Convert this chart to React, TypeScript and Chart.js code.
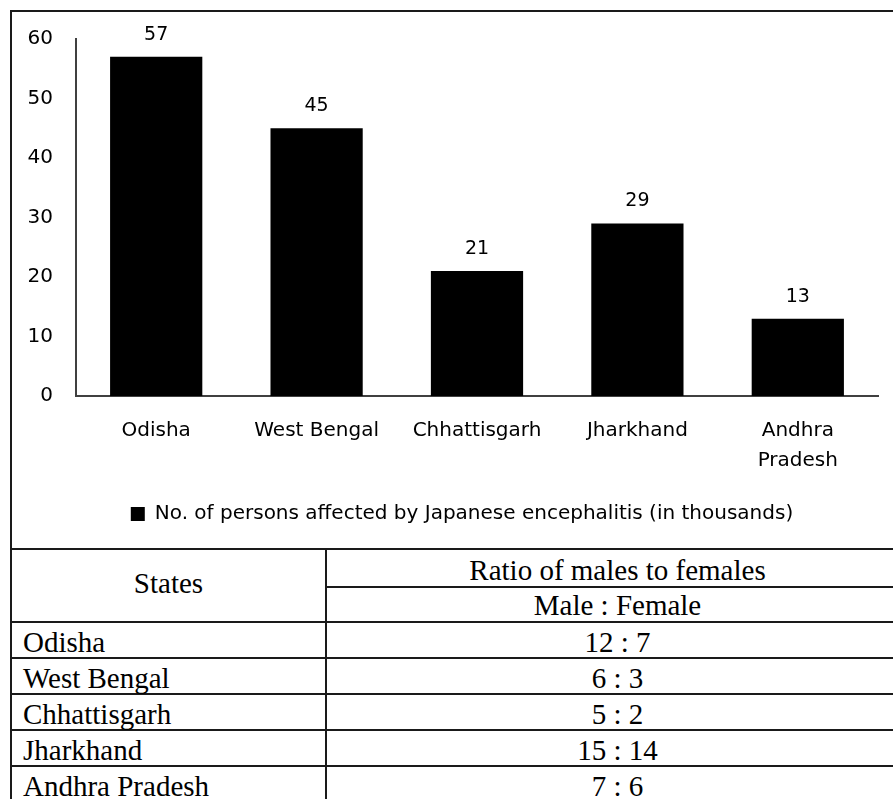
import React, { useEffect, useRef } from 'react';
import { Chart, registerables } from 'chart.js';

Chart.register(...registerables);

const states = ['Odisha', 'West Bengal', 'Chhattisgarh', 'Jharkhand', 'Andhra Pradesh'];
const affected = [57, 45, 21, 29, 13];
const maleParts = [12, 6, 5, 15, 7];
const femaleParts = [7, 3, 2, 14, 6];
const seriesLabel = 'No. of persons affected by Japanese encephalitis (in thousands)';
const yMin = 0;
const yMax = 60;
const yStep = 10;

const SANS = '"DejaVu Sans", sans-serif';
const SERIF = '"Liberation Serif", "Times New Roman", serif';
const LINE = '2px solid #1a1a1a';

const valueLabels = {
  id: 'valueLabels',
  afterDatasetsDraw(chart: any) {
    const ctx = chart.ctx;
    const meta = chart.getDatasetMeta(0);
    const data = chart.data.datasets[0].data;
    ctx.save();
    ctx.font = `19px ${SANS}`;
    ctx.fillStyle = '#000';
    ctx.textAlign = 'center';
    ctx.textBaseline = 'middle';
    meta.data.forEach((bar: any, i: number) => {
      ctx.fillText(String(data[i]), bar.x, bar.y - 22);
    });
    ctx.restore();
  },
};

// centre the legend on the whole box (the box includes the y-axis column)
const legendShift = {
  id: 'legendShift',
  afterLayout(chart: any) {
    const l = chart.legend;
    if (l) {
      l.left += 17;
      l.right += 17;
    }
  },
};

function BarChart() {
  const ref = useRef<HTMLCanvasElement | null>(null);
  useEffect(() => {
    if (!ref.current) return;
    const chart = new Chart(ref.current, {
      type: 'bar',
      data: {
        labels: states.map((s) => (s.length > 12 ? s.split(' ') : s)),
        datasets: [
          {
            label: seriesLabel,
            data: affected,
            backgroundColor: '#000',
            borderWidth: 0,
            barPercentage: 0.575,
            categoryPercentage: 1,
          },
        ],
      },
      options: {
        animation: false,
        responsive: false,
        maintainAspectRatio: false,
        layout: { padding: { top: 27, right: 30, bottom: 14, left: 0 } },
        plugins: {
          legend: {
            position: 'bottom',
            labels: {
              boxWidth: 14,
              boxHeight: 14,
              padding: 10,
              color: '#000',
              font: { family: SANS, size: 20 },
            },
          },
          tooltip: { enabled: false },
        },
        scales: {
          x: {
            grid: { display: false, drawTicks: false },
            border: { display: true, color: '#404040', width: 2 },
            ticks: {
              color: '#000',
              font: { family: SANS, size: 20, lineHeight: 1.5 },
              padding: 20,
              maxRotation: 0,
              autoSkip: false,
            },
            afterFit(s: any) {
              s.height = 98;
            },
          },
          y: {
            min: yMin,
            max: yMax,
            ticks: {
              stepSize: yStep,
              color: '#000',
              font: { family: SANS, size: 20 },
              padding: 23,
            },
            grid: { display: false, drawTicks: false },
            border: { display: true, color: '#404040', width: 2 },
            afterFit(s: any) {
              s.width = 64;
              s.paddingTop = 12;
            },
          },
        },
      },
      plugins: [valueLabels, legendShift],
    } as any);
    return () => chart.destroy();
  }, []);
  return (
    <canvas
      ref={ref}
      width={896}
      height={536}
      style={{ position: 'absolute', left: 0, top: 0, width: 896, height: 536 }}
    />
  );
}

const headerH1 = 38;
const headerH2 = 35;
const rowH = 36;
const leftColW = 315;
const rightColW = 581;

const cellText: React.CSSProperties = {
  position: 'absolute',
  boxSizing: 'border-box',
  display: 'flex',
  alignItems: 'center',
  fontFamily: SERIF,
  fontSize: 29,
  color: '#000',
  lineHeight: 1,
  whiteSpace: 'nowrap',
  borderBottom: LINE,
};

function RatioTable() {
  const top0 = 2;
  const dataTop = top0 + headerH1 + headerH2;
  return (
    <div
      style={{
        position: 'absolute',
        left: 10,
        top: 548,
        width: 900,
        height: 260,
        boxSizing: 'border-box',
        borderLeft: LINE,
        borderRight: LINE,
      }}
    >
      <div
        style={{
          ...cellText,
          left: 0,
          top: top0,
          width: leftColW,
          height: headerH1 + headerH2,
          borderRight: LINE,
          justifyContent: 'center',
          paddingBottom: 4,
        }}
      >
        States
      </div>
      <div
        style={{
          ...cellText,
          left: leftColW,
          top: top0,
          width: rightColW,
          height: headerH1,
          justifyContent: 'center',
          paddingTop: 4,
        }}
      >
        Ratio of males to females
      </div>
      <div
        style={{
          ...cellText,
          left: leftColW,
          top: top0 + headerH1,
          width: rightColW,
          height: headerH2,
          justifyContent: 'center',
          paddingTop: 2,
        }}
      >
        Male : Female
      </div>
      {states.map((s, i) => (
        <React.Fragment key={s}>
          <div
            style={{
              ...cellText,
              left: 0,
              top: dataTop + i * rowH,
              width: leftColW,
              height: rowH,
              borderRight: LINE,
              paddingLeft: 11,
              paddingTop: 4,
            }}
          >
            {s}
          </div>
          <div
            style={{
              ...cellText,
              left: leftColW,
              top: dataTop + i * rowH,
              width: rightColW,
              height: rowH,
              justifyContent: 'center',
              paddingTop: 4,
            }}
          >
            {`${maleParts[i]} : ${femaleParts[i]}`}
          </div>
        </React.Fragment>
      ))}
    </div>
  );
}

export default function App() {
  return (
    <div
      style={{
        position: 'fixed',
        left: 0,
        top: 0,
        width: 893,
        height: 799,
        overflow: 'hidden',
        background: '#fff',
      }}
    >
      <div
        style={{
          position: 'absolute',
          left: 10,
          top: 10,
          width: 900,
          height: 540,
          boxSizing: 'border-box',
          border: LINE,
        }}
      >
        <BarChart />
      </div>
      <RatioTable />
    </div>
  );
}
